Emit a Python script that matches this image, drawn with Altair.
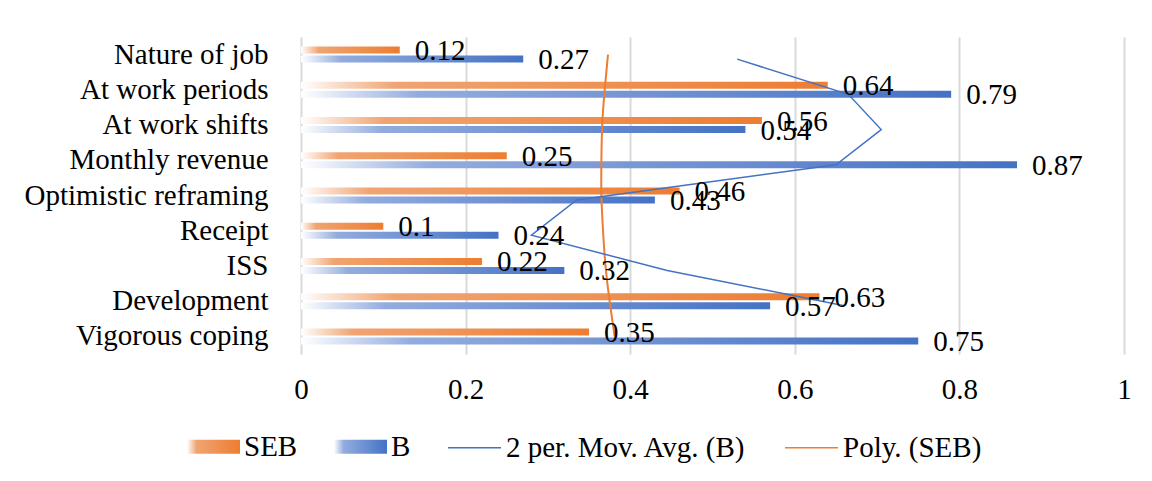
import altair as alt
import pandas as pd

# ---- data (Excel series order: first category is drawn at the bottom) ----
categories = ["Vigorous coping", "Development", "ISS", "Receipt",
              "Optimistic reframing", "Monthly revenue", "At work shifts",
              "At work periods", "Nature of job"]
seb = [0.35, 0.63, 0.22, 0.10, 0.46, 0.25, 0.56, 0.64, 0.12]
b = [0.75, 0.57, 0.32, 0.24, 0.43, 0.87, 0.54, 0.79, 0.27]
# polynomial trendline of SEB at each category
poly_seb = [0.381, 0.375, 0.370, 0.367, 0.365, 0.365, 0.366, 0.369, 0.373]
x_ticks = [0, 0.2, 0.4, 0.6, 0.8, 1]
series_bars = ["SEB", "B"]
series_lines = ["2 per. Mov. Avg. (B)", "Poly. (SEB)"]

ORANGE = "#ED7D31"
BLUE = "#4472C4"
FONT = "Liberation Serif"
FS = 29

bars_df = pd.DataFrame({
    "cat": categories * 2,
    "series": ["SEB"] * len(categories) + ["B"] * len(categories),
    "value": seb + b,
    "idx": list(range(len(categories))) * 2,
})
b_df = pd.DataFrame({"cat": categories, "idx": list(range(len(categories))), "B": b})
poly_df = pd.DataFrame({"cat": categories, "idx": list(range(len(categories))),
                        "value": poly_seb, "series": "Poly. (SEB)"})


def grad(cm, c1):
    return ("{gradient: 'linear', x1: 0, y1: 0, x2: 1, y2: 0, stops: ["
            "{offset: 0, color: '#ffffff'}, {offset: 0.18, color: '%s'}, "
            "{offset: 1, color: '%s'}]}" % (cm, c1))


y_enc = alt.Y(
    "cat:N", sort=categories[::-1],
    scale=alt.Scale(paddingInner=0.545, paddingOuter=0.2725),
    axis=alt.Axis(title=None, domain=False, ticks=False, grid=False,
                  labelFont=FONT, labelFontSize=FS, labelColor="#000000",
                  labelPadding=33, labelLimit=400),
)
x_enc = alt.X(
    "value:Q", scale=alt.Scale(domain=[0, 1], nice=False),
    axis=alt.Axis(title=None, values=x_ticks, domain=False, ticks=False,
                  grid=True, gridColor="#D9D9D9", gridWidth=2,
                  labelFont=FONT, labelFontSize=FS, labelColor="#000000",
                  labelPadding=21, labelFlush=False, format="~g"),
)

bars = alt.Chart(bars_df).mark_bar().encode(
    y=y_enc,
    x=x_enc,
    yOffset=alt.YOffset("series:N", sort=series_bars,
                        scale=alt.Scale(paddingInner=0.222, paddingOuter=0)),
    fill=alt.Fill(
        "series:N", sort=series_bars,
        scale=alt.Scale(domain=series_bars,
                        range=[{"expr": grad("#F0A472", ORANGE)},
                               {"expr": grad("#93ACDE", BLUE)}]),
        legend=alt.Legend(title=None, orient="none", legendX=-114, legendY=383,
                          direction="horizontal",
                          symbolType="M-1,-0.264H1V0.264H-1Z", symbolSize=2809,
                          symbolStrokeWidth=0, labelFont=FONT, labelFontSize=FS,
                          labelColor="#000000", labelOffset=4, columnPadding=36,
                          labelLimit=400, padding=0),
    ),
)

stroke_enc = alt.Stroke(
    "series:N",
    scale=alt.Scale(domain=series_lines, range=[BLUE, ORANGE]),
    legend=alt.Legend(title=None, orient="none", legendX=146, legendY=383,
                      direction="horizontal", symbolType="stroke",
                      symbolSize=2809, symbolStrokeWidth=1.5,
                      labelFont=FONT, labelFontSize=FS, labelColor="#000000",
                      labelOffset=4, columnPadding=35, labelLimit=400,
                      padding=0),
)

ma_line = alt.Chart(b_df).transform_window(
    value="mean(B)", n="count()", frame=[-1, 0], sort=[alt.SortField("idx")]
).transform_filter("datum.n == 2").transform_calculate(
    series="'2 per. Mov. Avg. (B)'"
).mark_line(strokeWidth=1.5, yOffset=4.5).encode(
    y=y_enc, x=x_enc, stroke=stroke_enc, order=alt.Order("idx:Q")
)

poly_line = alt.Chart(poly_df).mark_line(strokeWidth=2, interpolate="natural").encode(
    y=y_enc, x=x_enc, stroke=stroke_enc, order=alt.Order("idx:Q")
)


def label_layer(name, dy):
    return alt.Chart(bars_df).transform_filter(
        "datum.series == '%s'" % name
    ).mark_text(align="left", baseline="middle", dx=15, dy=dy, font=FONT,
                fontSize=FS, color="#000000").encode(
        y=y_enc, x=x_enc, text=alt.Text("value:Q", format="~g")
    )


chart = alt.layer(
    bars, poly_line, ma_line, label_layer("SEB", -3.5), label_layer("B", 5.5)
).properties(
    width=823, height=317,
    autosize=alt.AutoSizeParams(type="none"),
    padding={"left": 293, "top": 29, "right": 20, "bottom": 119},
    background="#FFFFFF",
).configure_view(stroke=None)

chart.save("out.html", embed_options={"renderer": "svg", "actions": False})
